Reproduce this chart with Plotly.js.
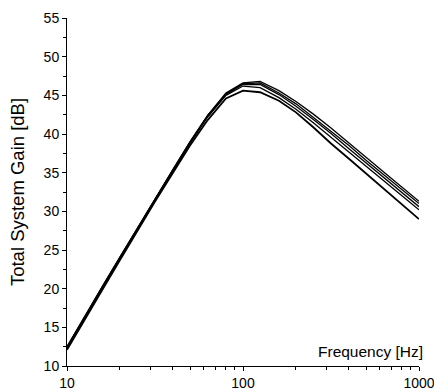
<!DOCTYPE html>
<html>
<head>
<meta charset="utf-8">
<script src="https://cdn.plot.ly/plotly-3.0.1.min.js"></script>
<style>
html,body{margin:0;padding:0;background:#fff;}
#chart{width:434px;height:392px;}
</style>
</head>
<body>
<div id="chart"></div>
<script>
const freq = [10, 12.5, 16, 20, 25, 31.5, 40, 50, 63, 80, 100, 125, 160, 200, 250, 315, 400, 500, 630, 800, 1000];
const gainA = [12.1, 15.9, 20.0, 23.7, 27.4, 31.2, 35.0, 38.5, 41.8, 44.6, 45.6, 45.4, 44.3, 42.8, 40.9, 38.8, 36.8, 34.9, 32.9, 30.9, 29.0];
const gainB = [12.3, 16.1, 20.2, 23.9, 27.6, 31.4, 35.2, 38.8, 42.2, 45.0, 46.2, 46.0, 44.7, 43.2, 41.5, 39.6, 37.6, 35.8, 33.9, 32.0, 30.2];
const gainC = [12.4, 16.2, 20.3, 24.0, 27.7, 31.5, 35.3, 38.9, 42.3, 45.1, 46.4, 46.4, 45.1, 43.6, 41.9, 40.1, 38.1, 36.3, 34.4, 32.4, 30.6];
const gainD = [12.5, 16.3, 20.4, 24.1, 27.8, 31.6, 35.4, 39.0, 42.4, 45.2, 46.5, 46.6, 45.3, 43.9, 42.2, 40.4, 38.5, 36.6, 34.7, 32.8, 31.0];
const gainE = [12.5, 16.3, 20.4, 24.1, 27.8, 31.6, 35.4, 39.0, 42.4, 45.3, 46.6, 46.8, 45.6, 44.2, 42.6, 40.8, 38.9, 37.0, 35.1, 33.1, 31.3];
const series = [gainA, gainB, gainC, gainD, gainE];
const yTicks = [10, 15, 20, 25, 30, 35, 40, 45, 50, 55];
const xTicks = [10, 100, 1000];
const xTickText = ['10', '100', '1000'];

const traces = series.map((g, i) => ({
  x: freq, y: g, type: 'scatter', mode: 'lines',
  line: {color: '#000', width: i === 0 ? 1.8 : 1.3},
  hoverinfo: 'skip', showlegend: false
}));

const tickFont = {family: 'Liberation Sans, Arial, sans-serif', size: 14, color: '#000'};
const yTitleFont = {family: 'Liberation Sans, Arial, sans-serif', size: 18.5, color: '#000'};
const xTitleFont = {family: 'Liberation Sans, Arial, sans-serif', size: 15.5, color: '#000'};

const layout = {
  width: 434, height: 392,
  margin: {l: 67, r: 15, t: 18, b: 26, pad: 0},
  paper_bgcolor: '#fff', plot_bgcolor: '#fff',
  showlegend: false,
  xaxis: {
    type: 'log', range: [1, 3],
    tickvals: xTicks, ticktext: xTickText,
    ticks: 'outside', ticklen: 4, tickwidth: 1, tickcolor: '#000',
    minor: {dtick: 'D1', ticks: 'outside', ticklen: 3, tickwidth: 1, tickcolor: '#000', showgrid: false},
    showline: true, linecolor: '#000', linewidth: 1,
    showgrid: false, zeroline: false,
    tickfont: tickFont, automargin: false, ticklabeloverflow: 'allow'
  },
  yaxis: {
    range: [10, 55], tickvals: yTicks,
    ticks: 'outside', ticklen: 4, tickwidth: 1, tickcolor: '#000',
    minor: {dtick: 2.5, tick0: 10, ticks: 'outside', ticklen: 3, tickwidth: 1, tickcolor: '#000', showgrid: false},
    showline: true, linecolor: '#000', linewidth: 1,
    showgrid: false, zeroline: false,
    tickfont: tickFont, automargin: false, ticklabeloverflow: 'allow',
    title: {text: 'Total System Gain [dB]', font: yTitleFont, standoff: 14}
  },
  annotations: [{
    text: 'Frequency [Hz]', xref: 'paper', yref: 'paper', x: 1, y: 0,
    xanchor: 'right', yanchor: 'bottom', xshift: 6, yshift: 4,
    showarrow: false, font: xTitleFont
  }]
};

Plotly.newPlot('chart', traces, layout, {staticPlot: true, displayModeBar: false});
</script>
</body>
</html>
